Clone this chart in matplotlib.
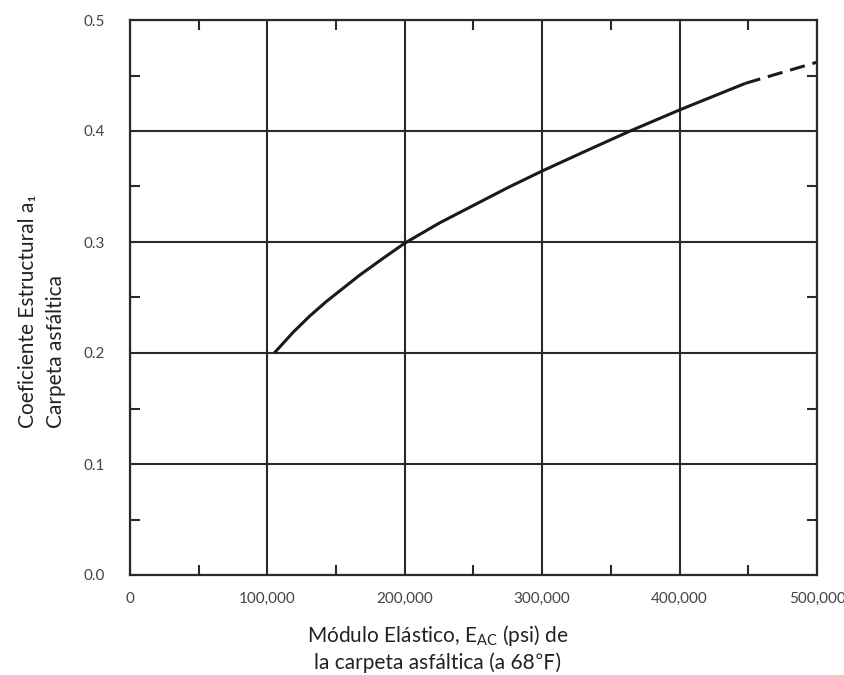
# Coeficiente estructural a1 vs modulo elastico de la carpeta asfaltica
import matplotlib
matplotlib.use('Agg')
import matplotlib.pyplot as plt
from matplotlib.ticker import MultipleLocator, FixedLocator, FixedFormatter

# curve (solid part + dashed extrapolation)
modulo_solid = [105000, 119000, 131000, 143000, 167000, 185000, 200000, 225000, 250000,
                275000, 300000, 330000, 364000, 400000, 425000, 448000]
a1_solid = [0.200, 0.219, 0.2335, 0.2465, 0.270, 0.286, 0.299, 0.317, 0.333,
            0.349, 0.364, 0.381, 0.400, 0.419, 0.4315, 0.443]
modulo_dash = [448000, 500000]
a1_dash = [0.443, 0.462]

x_ticks = [0, 100000, 200000, 300000, 400000, 500000]
x_labels = ['0', '100,000', '200,000', '300,000', '400,000', '500,000']
y_ticks = [0.0, 0.1, 0.2, 0.3, 0.4, 0.5]
y_labels = ['0.0', '0.1', '0.2', '0.3', '0.4', '0.5']

plt.rcParams['mathtext.fontset'] = 'custom'
plt.rcParams['mathtext.rm'] = 'Lato'

W, H = 845, 675
fig = plt.figure(figsize=(W / 100, H / 100), dpi=100)
ax = fig.add_axes([130 / W, 1 - 575 / H, (817 - 130) / W, (575 - 20) / H])

line_col = '#2a2a2a'
ax.plot(modulo_solid, a1_solid, color='#1a1a1a', lw=2.2, solid_capstyle='butt')
ax.plot(modulo_dash, a1_dash, color='#1a1a1a', lw=2.2, dashes=(5, 2.6))

ax.set_xlim(0, 500000)
ax.set_ylim(0, 0.5)
ax.xaxis.set_major_locator(FixedLocator(x_ticks))
ax.xaxis.set_major_formatter(FixedFormatter(x_labels))
ax.yaxis.set_major_locator(FixedLocator(y_ticks))
ax.yaxis.set_major_formatter(FixedFormatter(y_labels))
ax.xaxis.set_minor_locator(MultipleLocator(50000))
ax.yaxis.set_minor_locator(MultipleLocator(0.05))

ax.grid(True, which='major', color=line_col, lw=1.5)
for s in ax.spines.values():
    s.set_color(line_col)
    s.set_linewidth(1.6)

ax.tick_params(which='major', length=0, colors='#444444', pad=12)
ax.tick_params(which='minor', direction='in', length=7, width=1.5, color=line_col,
               top=True, right=True)
ax.tick_params(axis='y', which='major', pad=18)
for lab in ax.get_xticklabels() + ax.get_yticklabels():
    lab.set_fontfamily(['Lato', 'DejaVu Sans'])
    lab.set_fontsize(11)
    lab.set_color('#444444')

lab_font = ['Lato', 'Noto Sans CJK JP', 'DejaVu Sans']
fig.text(438 / W, 1 - 636 / H, 'Módulo Elástico, E$_{\\rm AC}$ (psi) de',
         ha='center', va='center', fontsize=15, family=lab_font, color='#222222')
fig.text(438 / W, 1 - 663 / H, 'la carpeta asfáltica (a 68℉)',
         ha='center', va='center', fontsize=15, family=lab_font, color='#222222')
fig.text(28 / W, 1 - 428 / H, 'Coeficiente Estructural a₁',
         rotation=90, ha='center', va='bottom', fontsize=15, family=lab_font, color='#222222')
fig.text(56 / W, 1 - 428 / H, 'Carpeta asfáltica',
         rotation=90, ha='center', va='bottom', fontsize=15, family=lab_font, color='#222222')

fig.savefig('out.png', dpi=100, facecolor='white')
